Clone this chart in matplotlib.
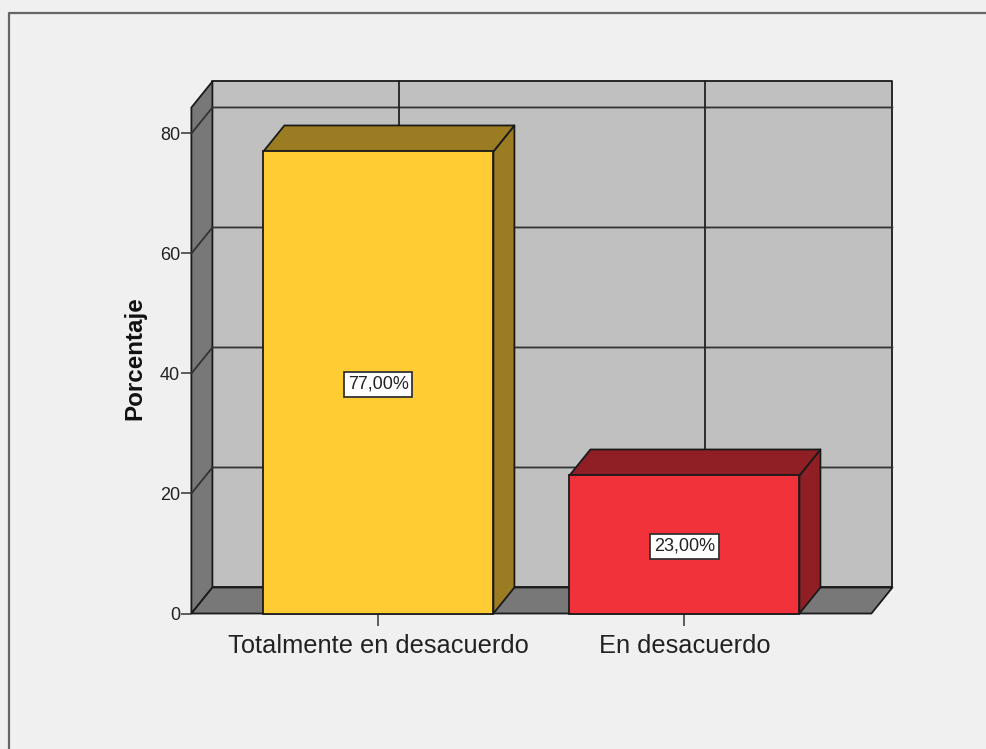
import matplotlib
matplotlib.use('Agg')
import matplotlib.pyplot as plt
from matplotlib.lines import Line2D

categories = ['Totalmente en desacuerdo', 'En desacuerdo']
values = [77.0, 23.0]
value_labels = ['77,00%', '23,00%']
yticks = [0, 20, 40, 60, 80]

front_colors = ['#FFCC33', '#F2323A']
side_colors = ['#9C7C22', '#8F1F25']

W, H = 987, 749
BG = '#F0F0F0'
WALL = '#C0C0C0'
SHADE = '#787878'
EDGE = '#1a1a1a'
TEXT = '#222222'
lw = 1.3

plt.rcParams['font.family'] = ['Liberation Sans', 'DejaVu Sans']

fig = plt.figure(figsize=(W / 100, H / 100), dpi=100, facecolor=BG)
ax = fig.add_axes([191.4 / W, (H - 613.5) / H, 680 / W, 506 / H])
ax.set_xlim(-0.611, 1.611)
ax.set_ylim(0, 84.33)
ax.patch.set_visible(False)
for pos in ['top', 'bottom', 'left', 'right']:
    ax.spines[pos].set_visible(False)

# fake 3d depth, in data units
dx = 21 / 306
dy = 26 / 6
bar_w = 230 / 306
x0, x1 = ax.get_xlim()
y1 = ax.get_ylim()[1]


def poly(xs, ys, color, z):
    ax.fill(xs, ys, facecolor=color, edgecolor=EDGE, linewidth=lw, clip_on=False,
            zorder=z, joinstyle='round')


poly([x0 + dx, x1 + dx, x1 + dx, x0 + dx], [dy, dy, y1 + dy, y1 + dy], WALL, 1)
poly([x0, x0 + dx, x0 + dx, x0], [0, dy, y1 + dy, y1], SHADE, 1)
poly([x0, x1, x1 + dx, x0 + dx], [0, 0, dy, dy], SHADE, 1)

# grid on the walls
for t in yticks[1:]:
    ax.plot([x0, x0 + dx, x1 + dx], [t, t + dy, t + dy], color='#333333', lw=lw, clip_on=False, zorder=2)
for i in range(len(categories)):
    ax.plot([i + dx, i + dx], [dy, y1 + dy], color='#222222', lw=lw, clip_on=False, zorder=2)

# bars
for i, v in enumerate(values):
    l = i - bar_w / 2
    r = i + bar_w / 2
    poly([r, r + dx, r + dx, r], [0, dy, v + dy, v], side_colors[i], 3)
    poly([l, r, r + dx, l + dx], [v, v, v + dy, v + dy], side_colors[i], 3)
    ax.bar(i, v, width=bar_w, color=front_colors[i], edgecolor=EDGE, linewidth=lw, zorder=4, clip_on=False)
    ax.text(i, v / 2, value_labels[i], ha='center', va='center_baseline', fontsize=13, color=TEXT, zorder=5,
            bbox=dict(boxstyle='square,pad=0.2', facecolor='white', edgecolor='#333333', linewidth=lw))

ax.set_xticks(range(len(categories)))
ax.set_xticklabels(categories)
ax.set_yticks(yticks)
ax.tick_params(axis='x', length=8.6, width=1.1, color='#333333', labelsize=18.3, labelcolor=TEXT, pad=6.5)
ax.tick_params(axis='y', length=7.2, width=1.1, color='#333333', labelsize=13, labelcolor=TEXT, pad=1)
ax.set_ylabel('Porcentaje', fontsize=17.4, fontweight='bold', color='#111111')
ax.yaxis.set_label_coords((146 - 191.4) / 680, 0.505)

# window frame
fig.add_artist(Line2D([9 / W, 9 / W, 1], [0, (H - 13) / H, (H - 13) / H], color='#666666', lw=1.6))

fig.savefig('out.png', dpi=100, facecolor=BG)
